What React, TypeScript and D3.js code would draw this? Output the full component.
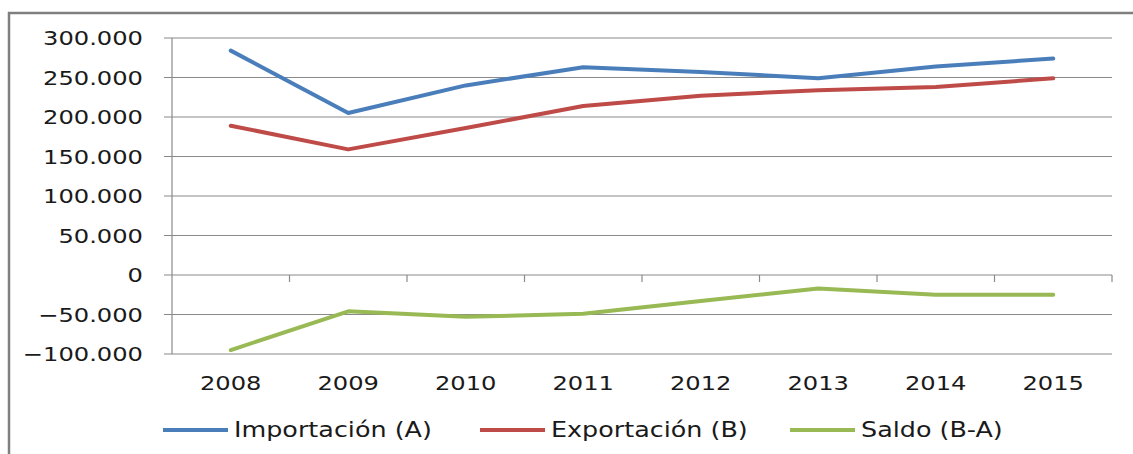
import * as d3 from 'd3';
import * as React from 'react';

const years = ['2008', '2009', '2010', '2011', '2012', '2013', '2014', '2015'];
const importacion = [284000, 205000, 240000, 263000, 257000, 249000, 264000, 274000];
const exportacion = [189000, 159000, 186000, 214000, 227000, 234000, 238000, 249000];
const saldo = [-95000, -46000, -53000, -49000, -33000, -17000, -25000, -25000];
const yTicks = [300000, 250000, 200000, 150000, 100000, 50000, 0, -50000, -100000];

const seriesNames = ['Importación (A)', 'Exportación (B)', 'Saldo (B-A)'];
const seriesColors = ['#4a7ebb', '#be4b48', '#98b954'];

const W = 1133;
const H = 454;
const margin = { top: 38, left: 172, right: 21, bottom: 100 };
const STRETCH = 1.24; // (original text is horizontally stretched)
const FONT = 'DejaVu Sans';
const GRID = '#8a8a8a';

const fmt = (v: number) => {
  if (v === 0) return '0';
  const s = d3.format(',')(v);
  return s.replace(/,/g, '.');
};

const App = () => {
  const x = d3
    .scaleBand<string>()
    .domain(years)
    .range([margin.left, W - margin.right]);
  const y = d3.scaleLinear().domain([-100000, 300000]).range([H - margin.bottom, margin.top]);

  const line = d3
    .line<number>()
    .x((_, i) => (x(years[i]) as number) + x.bandwidth() / 2)
    .y((d) => y(d));

  const allSeries = [importacion, exportacion, saldo];
  const legendX = [163, 480, 790];
  const legendY = 430;

  return (
    <svg
      width={W}
      height={H}
      style={{ position: 'absolute', left: 0, top: 0, background: '#fff' }}
      fontFamily={FONT}
    >
      <rect x={9} y={13} width={1300} height={600} fill="#fff" stroke="#7f7f7f" strokeWidth={2.5} />

      {/* gridlines with left ticks */}
      {yTicks.map((t) => (
        <g key={t}>
          <line x1={margin.left - 8} x2={W - margin.right} y1={y(t)} y2={y(t)} stroke={GRID} strokeWidth={1.2} />
          <text
            transform={`translate(143,${y(t)}) scale(${STRETCH},1)`}
            textAnchor="end"
            dy="0.36em"
            fontSize={19.5}
            fill="#1a1a1a"
          >
            {fmt(t)}
          </text>
        </g>
      ))}

      {/* vertical axis */}
      <line x1={margin.left} x2={margin.left} y1={y(300000)} y2={y(-100000)} stroke={GRID} strokeWidth={1.2} />

      {/* category ticks on zero line */}
      {years.map((yr) => (
        <line
          key={'t' + yr}
          x1={(x(yr) as number) + x.bandwidth()}
          x2={(x(yr) as number) + x.bandwidth()}
          y1={y(0)}
          y2={y(0) + 7}
          stroke={GRID}
          strokeWidth={1.2}
        />
      ))}

      {/* category labels */}
      {years.map((yr) => (
        <text
          key={'l' + yr}
          transform={`translate(${(x(yr) as number) + x.bandwidth() / 2},383) scale(${STRETCH},1)`}
          textAnchor="middle"
          dy="0.36em"
          fontSize={19.5}
          fill="#1a1a1a"
        >
          {yr}
        </text>
      ))}

      {/* series */}
      {allSeries.map((s, i) => (
        <path
          key={'s' + i}
          d={line(s) as string}
          fill="none"
          stroke={seriesColors[i]}
          strokeWidth={4}
          strokeLinejoin="round"
          strokeLinecap="round"
        />
      ))}

      {/* legend */}
      {seriesNames.map((name, i) => (
        <g key={'lg' + i}>
          <line
            x1={legendX[i]}
            x2={legendX[i] + 65}
            y1={legendY}
            y2={legendY}
            stroke={seriesColors[i]}
            strokeWidth={4}
          />
          <text
            transform={`translate(${legendX[i] + 71},${legendY}) scale(${STRETCH},1)`}
            dy="0.36em"
            fontSize={20.5}
            fill="#1a1a1a"
          >
            {name}
          </text>
        </g>
      ))}
    </svg>
  );
};

export default App;
